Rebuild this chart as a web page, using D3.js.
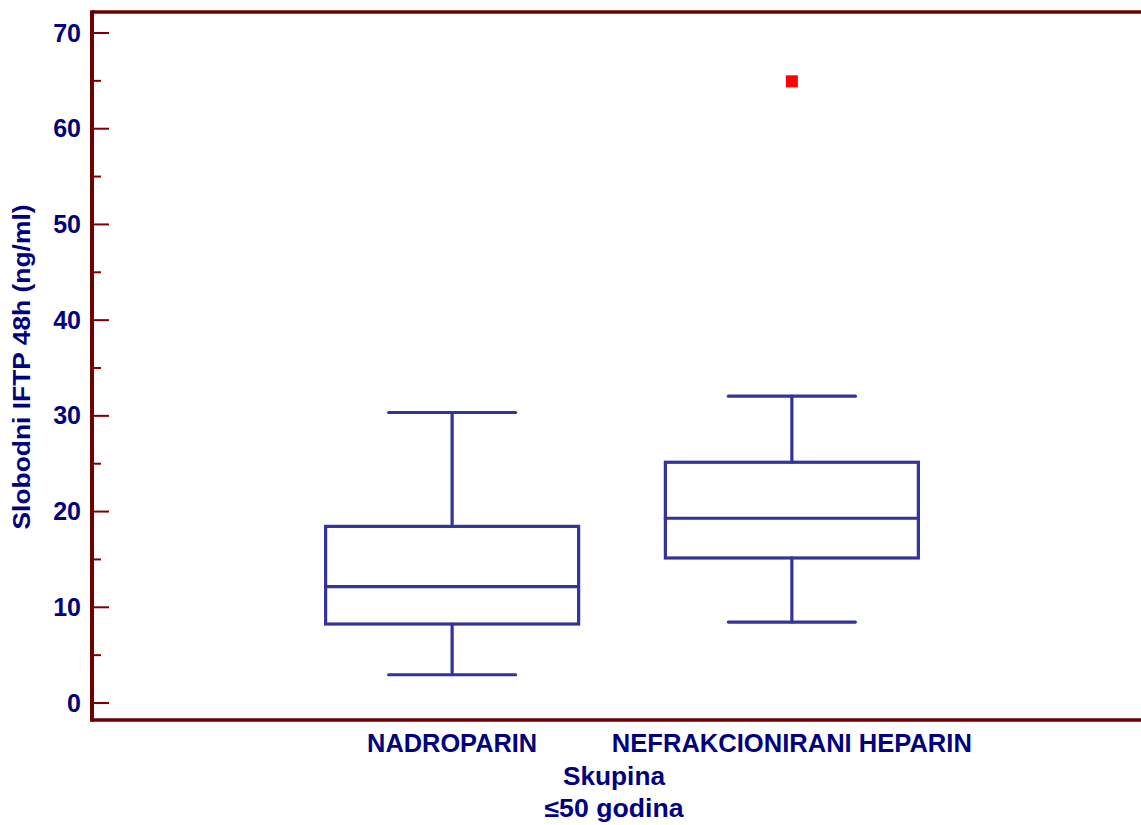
<!DOCTYPE html>
<html>
<head>
<meta charset="utf-8">
<script src="https://cdn.jsdelivr.net/npm/d3@7"></script>
<style>
  html, body { margin: 0; padding: 0; background: #fff; }
  svg { display: block; }
  text { font-family: Arial, "Liberation Sans", sans-serif; font-weight: bold; fill: #000080; }
</style>
</head>
<body>
<svg id="chart" width="1141" height="825"></svg>
<script>
// ---- data ----
const categories = ["NADROPARIN", "NEFRAKCIONIRANI HEPARIN"];
const whiskerLow  = [2.9, 8.4];
const q1          = [8.2, 15.1];
const median      = [12.1, 19.25];
const q3          = [18.4, 25.1];
const whiskerHigh = [30.3, 32.0];
const outliers    = [[], [64.9]];
const yTicks      = [0, 10, 20, 30, 40, 50, 60, 70];
const yMinorTicks = [5, 15, 25, 35, 45, 55, 65];
const yLabel = "Slobodni IFTP 48h (ng/ml)";
const xTitle = "Skupina";
const subTitle = "\u226450 godina";

(function () {
// ---- layout ----
const plotLeft = 92, plotRight = 1141, plotTop = 12, plotBottom = 720;
const boxColor = "#333399", axisColor = "#6e0000", tickColor = "#800000";

const svg = d3.select("#chart");

const y = d3.scaleLinear().domain([0, 70]).range([702.5, 32.5]);
const x = d3.scalePoint().domain(categories).range([92, 1152]).padding(1.06);
const boxW = 253, capW = 127;
const labelLen = [170, 360];

// frame
svg.append("line").attr("x1", plotLeft).attr("x2", plotRight).attr("y1", plotTop).attr("y2", plotTop)
  .attr("stroke", axisColor).attr("stroke-width", 3.5);
svg.append("line").attr("x1", plotLeft).attr("x2", plotRight).attr("y1", plotBottom).attr("y2", plotBottom)
  .attr("stroke", axisColor).attr("stroke-width", 3.5);

// y ticks (drawn inward)
const yAxis = d3.axisRight(y).tickValues(yTicks).tickSize(17).tickFormat("");
const gy = svg.append("g").attr("transform", `translate(${plotLeft},0)`).call(yAxis);
gy.select(".domain").remove();
gy.selectAll(".tick line").attr("stroke", tickColor).attr("stroke-width", 2);
const yMinor = d3.axisRight(y).tickValues(yMinorTicks).tickSize(9).tickFormat("");
const gym = svg.append("g").attr("transform", `translate(${plotLeft},0)`).call(yMinor);
gym.select(".domain").remove();
gym.selectAll(".tick line").attr("stroke", tickColor).attr("stroke-width", 2);

svg.append("line").attr("x1", plotLeft).attr("x2", plotLeft).attr("y1", plotTop - 1.75).attr("y2", plotBottom + 1.75)
  .attr("stroke", axisColor).attr("stroke-width", 4);

// tick labels
svg.append("g").selectAll("text").data(yTicks).join("text")
  .attr("x", 81).attr("y", d => y(d)).attr("dy", "0.36em")
  .attr("text-anchor", "end").attr("font-size", 25).text(d => d);

// y label
svg.append("text")
  .attr("transform", `translate(30,367) rotate(-90)`)
  .attr("text-anchor", "middle").attr("font-size", 23)
  .attr("textLength", 325).attr("lengthAdjust", "spacingAndGlyphs")
  .text(yLabel);

// category labels
svg.append("g").selectAll("text").data(categories).join("text")
  .attr("x", d => x(d)).attr("y", 752)
  .attr("text-anchor", "middle").attr("font-size", 25)
  .attr("textLength", (d, i) => labelLen[i]).attr("lengthAdjust", "spacingAndGlyphs")
  .text(d => d);

svg.append("text").attr("x", 614).attr("y", 785).attr("text-anchor", "middle")
  .attr("font-size", 25).attr("textLength", 102).attr("lengthAdjust", "spacingAndGlyphs").text(xTitle);
svg.append("text").attr("x", 614).attr("y", 817).attr("text-anchor", "middle")
  .attr("font-size", 25).attr("textLength", 139).attr("lengthAdjust", "spacingAndGlyphs").text(subTitle);

// boxes
const g = svg.append("g").attr("stroke", boxColor).attr("stroke-width", 3.2).attr("fill", "none")
  .attr("stroke-linecap", "round");
categories.forEach((c, i) => {
  const cx = x(c);
  g.append("line").attr("x1", cx).attr("x2", cx).attr("y1", y(whiskerHigh[i])).attr("y2", y(q3[i]));
  g.append("line").attr("x1", cx).attr("x2", cx).attr("y1", y(q1[i])).attr("y2", y(whiskerLow[i]));
  g.append("line").attr("x1", cx - capW / 2).attr("x2", cx + capW / 2).attr("y1", y(whiskerHigh[i])).attr("y2", y(whiskerHigh[i]));
  g.append("line").attr("x1", cx - capW / 2).attr("x2", cx + capW / 2).attr("y1", y(whiskerLow[i])).attr("y2", y(whiskerLow[i]));
  g.append("rect").attr("x", cx - boxW / 2).attr("width", boxW)
    .attr("y", y(q3[i])).attr("height", y(q1[i]) - y(q3[i]));
  g.append("line").attr("x1", cx - boxW / 2).attr("x2", cx + boxW / 2).attr("y1", y(median[i])).attr("y2", y(median[i]));
  outliers[i].forEach(v => {
    svg.append("rect").attr("x", cx - 6).attr("y", y(v) - 6).attr("width", 12).attr("height", 12)
      .attr("fill", "#ff0000");
  });
});
})();
</script>
</body>
</html>
